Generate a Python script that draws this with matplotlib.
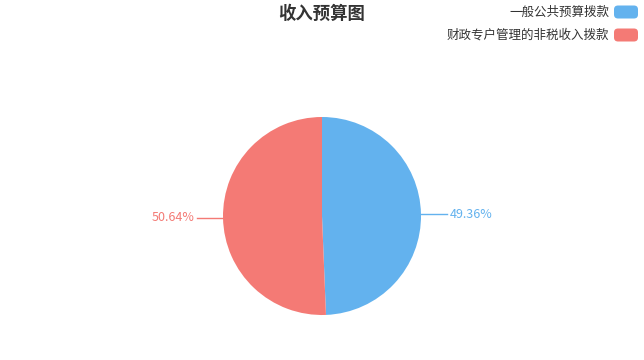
import numpy as np
import matplotlib
matplotlib.use("Agg")
import matplotlib.pyplot as plt
from matplotlib.patches import FancyBboxPatch

plt.rcParams["font.family"] = ["Noto Sans CJK SC", "DejaVu Sans"]

# 数据
categories = ["一般公共预算拨款", "财政专户管理的非税收入拨款"]
values = [49.36, 50.64]
colors = ["#63b2ee", "#f47a75"]

W, H = 644, 360
fig = plt.figure(figsize=(W / 100, H / 100), dpi=100)
ax = fig.add_axes([0, 0, 1, 1])

cx, cy, r = 322, H - 216, 99
wedges, _ = ax.pie(values, colors=colors, startangle=90, counterclock=False,
                   center=(cx, cy), radius=r, frame=True,
                   wedgeprops=dict(linewidth=0))
ax.set_xlim(0, W)
ax.set_ylim(0, H)
ax.set_aspect("equal")
ax.axis("off")

# 标签与引导线
for w, v, c in zip(wedges, values, colors):
    mid = np.deg2rad((w.theta1 + w.theta2) / 2)
    x0 = cx + r * np.cos(mid)
    y0 = cy + r * np.sin(mid)
    side = 1 if np.cos(mid) > 0 else -1
    x1 = x0 + side * 26
    ax.plot([x0, x1], [y0, y0], color=c, lw=1)
    ax.text(x1 + side * 3, y0, f"{v:.2f}%", color=c, fontsize=9,
            ha="left" if side > 0 else "right", va="center")

# 标题
ax.text(322, H - 14, "收入预算图", fontsize=12.5, fontweight="bold",
        color="#333333", ha="center", va="center")

# 图例
for i, (name, c) in enumerate(zip(categories, colors)):
    yc = H - (12 + i * 23)
    box = FancyBboxPatch((614, yc - 6.5), 24, 13,
                         boxstyle="round,pad=0,rounding_size=4",
                         facecolor=c, edgecolor="none")
    ax.add_patch(box)
    ax.text(609, yc, name, fontsize=9, color="#333333", ha="right", va="center")

fig.savefig("out.png", dpi=100, facecolor="white")
